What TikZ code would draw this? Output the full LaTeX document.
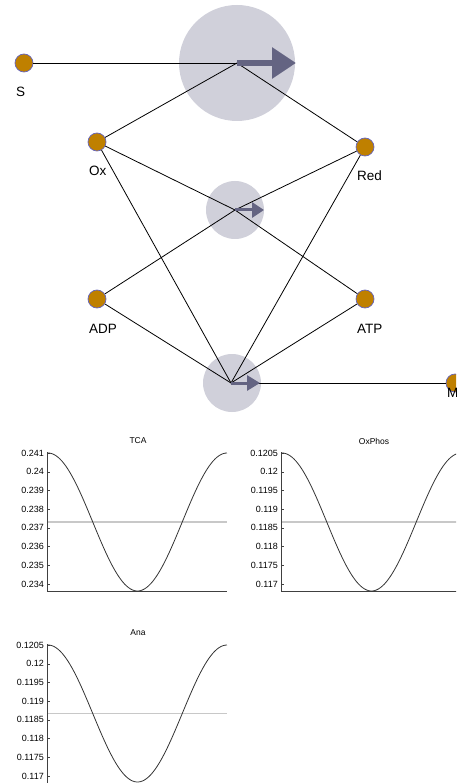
\documentclass[tikz,border=0pt]{standalone}
\usepackage{fontspec}
\setmainfont{Liberation Sans}
\usepackage{tikz}
\usetikzlibrary{arrows.meta,positioning}

\definecolor{metab}{RGB}{191,128,0}
\definecolor{metabedge}{RGB}{100,100,190}
\definecolor{enzyme}{RGB}{208,208,218}
\definecolor{flux}{RGB}{100,100,130}
\definecolor{meanline}{RGB}{200,200,200}

\tikzset{
  species/.style={circle,fill=metab,draw=metabedge,line width=0.7pt,minimum size=18pt,inner sep=0pt},
  lbl/.style={anchor=west,font=\fontsize{13.5}{15}\selectfont,inner sep=0pt},
  link/.style={line width=0.8pt},
  ticklbl/.style={anchor=east,font=\fontsize{9}{10}\selectfont,inner sep=0pt},
  ttl/.style={font=\fontsize{8.5}{10}\selectfont,inner sep=0pt},
  axis/.style={draw=black!75,line width=1pt},
  curve/.style={black!80,line width=0.8pt}
}

\begin{document}
\begin{tikzpicture}[x=1pt,y=-1pt]
\useasboundingbox (0,0) rectangle (456,783);
\clip (0,0) rectangle (456,783);

% enzimas
\fill[enzyme] (237,63) circle (58);
\fill[enzyme] (235,210) circle (29);
\fill[enzyme] (232,383) circle (29);
\coordinate (tca) at (237,63);
\coordinate (oxphos) at (235,210);
\coordinate (ana) at (231,383);

% metabolitos
\node[species] (s) at (24,63) {};
\node[species] (ox) at (97,142) {};
\node[species] (red) at (365,147) {};
\node[species] (adp) at (97,299) {};
\node[species] (atp) at (365,299) {};
\node[species] (m) at (455,383) {};

% arestas
\draw[link] (s) -- (tca);
\draw[link] (ox) -- (tca);
\draw[link] (red) -- (tca);
\draw[link] (ox) -- (oxphos) -- (atp);
\draw[link] (adp) -- (oxphos) -- (red);
\foreach \n in {ox,adp,red,atp}
  \draw[link] (\n) -- (ana);
\draw[link] (ana) -- (m);

% setas de fluxo
\draw[flux,line width=6pt,-{Triangle[length=24pt,width=30pt]}] (tca) -- ++(59,0);
\draw[flux,line width=3pt,-{Triangle[length=12pt,width=15pt]}] (oxphos) -- ++(29,0);
\draw[flux,line width=3pt,-{Triangle[length=13pt,width=15pt]}] (ana) -- ++(29,0);

% rotulos
\node[lbl] (sl) at ([shift={(-8,29)}]s) {S};
\node[lbl] (oxl) at ([shift={(-8,29)}]ox) {Ox};
\node[lbl] (redl) at ([shift={(-8,29)}]red) {Red};
\node[lbl] (adpl) at ([shift={(-8,30)}]adp) {ADP};
\node[lbl] (atpl) at ([shift={(-8,30)}]atp) {ATP};
\node[lbl] (ml) at ([shift={(-8,10)}]m) {M};

% graficos
\node[ttl] (tcat) at (138,441) {TCA};
\node[ttl] (oxphost) at (374,441) {OxPhos};
\node[ttl] (anat) at (138,633) {Ana};

\draw[meanline,line width=1.2pt] (47,522) -- (227,522);
\draw[meanline,line width=1.2pt] (281,522) -- (461,522);
\draw[meanline,line width=1.2pt] (47,713.5) -- (227,713.5);

\draw[axis] (47,452) -- (47,591) -- (227,591);
\draw[axis] (281,452) -- (281,591) -- (461,591);
\draw[axis] (47,644) -- (47,783) -- (227,783);

\foreach \v [count=\i from 0] in {0.241,0.24,0.239,0.238,0.237,0.236,0.235,0.234} {
  \draw[black!75] (47,453+\i*18.71) -- (50,453+\i*18.71);
  \node[ticklbl] at (44,453+\i*18.71) {\v};
}
\foreach \v [count=\i from 0] in {0.1205,0.12,0.1195,0.119,0.1185,0.118,0.1175,0.117} {
  \draw[black!75] (281,453+\i*18.71) -- (284,453+\i*18.71);
  \node[ticklbl] at (278,453+\i*18.71) {\v};
  \draw[black!75] (47,645+\i*18.71) -- (50,645+\i*18.71);
  \node[ticklbl] at (44,645+\i*18.71) {\v};
}

\draw[curve] plot[domain=0:360,samples=90,smooth] ({48+0.4972*\x},{522-69*cos(\x)});
\draw[curve] plot[domain=0:360,samples=90,smooth] ({282+0.4972*\x},{522-69*cos(\x)});
\draw[curve] plot[domain=0:360,samples=90,smooth] ({48+0.4972*\x},{713.5-68.5*cos(\x)});
\end{tikzpicture}
\end{document}
